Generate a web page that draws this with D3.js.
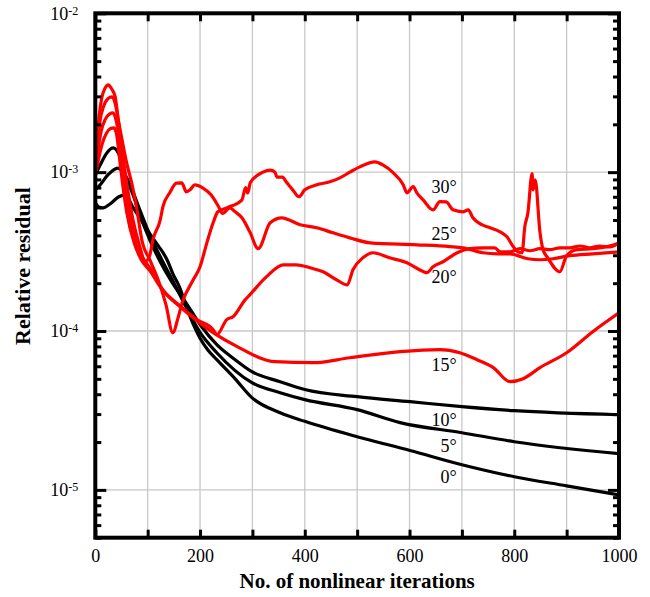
<!DOCTYPE html>
<html>
<head>
<meta charset="utf-8">
<script src="https://cdn.jsdelivr.net/npm/d3@7"></script>
<style>
  body { margin: 0; background: #fff; }
  text { font-family: "Liberation Serif", "Times New Roman", serif; }
</style>
</head>
<body>
<script>
(function () {

    //tick values and labels
    var iterTicks = [0, 100, 200, 300, 400, 500, 600, 700, 800, 900, 1000];
    var iterLabels = [0, 200, 400, 600, 800, 1000];
    var decades = [1e-5, 1e-4, 1e-3, 1e-2];
    var decadeExps = ["-5", "-4", "-3", "-2"];

    //residual histories: [iteration, relative residual]
    var res0 = [[0,6.4e-4],[8,6.0e-4],[15,5.96e-4],[28,6.3e-4],[45,7.0e-4],[57,7.2e-4],[72,6.0e-4],[85,5.16e-4],
        [104,4.1e-4],[120,3.45e-4],[137,2.81e-4],[148,2.3e-4],[162,1.85e-4],[173,1.45e-4],[190,1.05e-4],[200,9.0e-5],
        [215,7.6e-5],[232,6.6e-5],[267,5.0e-5],[299,3.81e-5],[353,3.06e-5],[400,2.7e-5],[500,2.16e-5],[601,1.77e-5],
        [700,1.44e-5],[800,1.21e-5],[900,1.06e-5],[1000,9.3e-6]];
    var res5 = [[0,7.74e-4],[9,8.3e-4],[24,9.6e-4],[43,1.06e-3],[62,8.95e-4],[85,5.79e-4],[104,4.03e-4],[127,2.81e-4],
        [152,1.95e-4],[173,1.42e-4],[200,9.8e-5],[232,7.3e-5],[299,4.73e-5],[353,4.09e-5],[400,3.7e-5],[500,3.2e-5],
        [582,2.65e-5],[700,2.29e-5],[800,2.01e-5],[1000,1.69e-5]];
    var res10 = [[0,9.6e-4],[10,1.12e-3],[22,1.32e-3],[34,1.42e-3],[45,1.3e-3],[57,9.6e-4],[72,7.2e-4],[85,5.4e-4],
        [104,3.75e-4],[124,2.73e-4],[146,2.04e-4],[173,1.51e-4],[200,1.1e-4],[232,8.2e-5],[267,6.6e-5],[299,5.55e-5],
        [353,4.8e-5],[400,4.28e-5],[500,3.86e-5],[601,3.59e-5],[700,3.34e-5],[800,3.15e-5],[1000,2.97e-5]];
    var res15 = [[0,9.4e-4],[6,1.2e-3],[13,1.5e-3],[21,1.75e-3],[29,1.88e-3],[36,1.9e-3],[41,1.7e-3],[46,1.25e-3],
        [52,8.5e-4],[60,5.6e-4],[74,3.6e-4],[88,2.8e-4],[104,2.4e-4],[129,1.8e-4],[162,1.42e-4],[194,1.16e-4],
        [225,9.76e-5],[271,7.97e-5],[343,6.41e-5],[416,6.32e-5],[486,6.79e-5],[582,7.41e-5],[658,7.63e-5],[696,7.3e-5],
        [729,6.6e-5],[760,5.88e-5],[792,4.8e-5],[817,5.01e-5],[849,5.88e-5],[900,7.3e-5],[950,9.9e-5],[1000,1.3e-4]];
    var res20 = [[0,9.6e-4],[5,1.35e-3],[11,1.8e-3],[19,2.15e-3],[27,2.32e-3],[34,2.36e-3],[40,2.1e-3],[46,1.6e-3],
        [52,1.1e-3],[57,8.0e-4],[66,5.2e-4],[80,3.5e-4],[92,2.85e-4],[104,2.5e-4],[129,1.82e-4],[162,1.44e-4],
        [194,1.18e-4],[225,1.02e-4],[232,9.48e-5],[251,1.18e-4],[263,1.23e-4],[286,1.57e-4],[295,1.69e-4],[327,2.2e-4],
        [359,2.61e-4],[384,2.61e-4],[410,2.5e-4],[435,2.36e-4],[461,2.1e-4],[481,1.95e-4],[492,2.43e-4],[511,2.89e-4],
        [530,3.11e-4],[562,2.89e-4],[595,2.69e-4],[626,2.37e-4],[633,2.33e-4],[645,2.54e-4],[664,2.73e-4],[691,3.11e-4],
        [715,3.3e-4],[740,3.34e-4],[763,3.34e-4],[773,3.15e-4],[792,3.15e-4],[811,3.3e-4],[830,3.2e-4],[849,3.3e-4],
        [868,3.25e-4],[887,3.34e-4],[906,3.34e-4],[926,3.43e-4],[944,3.34e-4],[963,3.43e-4],[983,3.38e-4],[1000,3.59e-4]];
    var res25 = [[0,9.8e-4],[4,1.45e-3],[9,2.1e-3],[16,2.6e-3],[24,2.9e-3],[32,2.98e-3],[38,2.7e-3],[44,2.1e-3],
        [50,1.5e-3],[56,1.05e-3],[62,7.74e-4],[72,5.0e-4],[85,3.4e-4],[95,2.73e-4],[104,3.0e-4],[110,3.75e-4],
        [124,5.01e-4],[129,6.05e-4],[142,7.41e-4],[155,8.53e-4],[165,8.56e-4],[174,7.52e-4],[181,7.74e-4],[190,8.32e-4],
        [205,7.97e-4],[221,7.2e-4],[235,6.1e-4],[243,5.5e-4],[257,5.96e-4],[267,5.63e-4],[280,5.16e-4],[295,4.21e-4],
        [311,3.3e-4],[334,4.8e-4],[356,5.16e-4],[391,4.67e-4],[423,4.47e-4],[454,4.15e-4],[486,3.86e-4],[525,3.59e-4],
        [614,3.49e-4],[677,3.4e-4],[702,3.34e-4],[740,3.11e-4],[769,3.06e-4],[792,3.06e-4],[826,2.85e-4],[849,2.81e-4],
        [874,2.85e-4],[906,2.98e-4],[950,3.06e-4],[1000,3.15e-4]];
    var res30 = [[0,1.0e-3],[3,1.5e-3],[7,2.2e-3],[12,2.9e-3],[18,3.35e-3],[25,3.54e-3],[31,3.35e-3],[38,2.98e-3],
        [44,2.13e-3],[50,1.67e-3],[60,1.14e-3],[70,8.4e-4],[78,6.2e-4],[90,3.6e-4],[104,2.81e-4],[120,2.1e-4],
        [135,1.46e-4],[148,9.76e-5],[158,1.21e-4],[166,1.51e-4],[187,2.1e-4],[200,2.54e-4],[213,3.59e-4],[225,4.8e-4],
        [234,5.63e-4],[251,5.96e-4],[280,6.7e-4],[287,8.0e-4],[291,7.4e-4],[296,8.6e-4],[320,1.0e-3],[334,1.03e-3],
        [343,1.0e-3],[347,9.3e-4],[357,9.3e-4],[366,8.56e-4],[377,7.74e-4],[389,7.0e-4],[400,7.74e-4],[423,8.32e-4],
        [448,8.7e-4],[467,9.2e-4],[486,1.0e-3],[505,1.08e-3],[534,1.16e-3],[549,1.11e-3],[569,9.9e-4],[588,8.32e-4],
        [595,7.41e-4],[607,8.1e-4],[614,7.41e-4],[626,6.69e-4],[645,5.79e-4],[658,6.53e-4],[670,6.5e-4],[683,5.79e-4],
        [702,5.63e-4],[712,5.79e-4],[721,5.16e-4],[738,4.67e-4],[754,4.47e-4],[773,4.21e-4],[786,3.92e-4],[798,3.4e-4],
        [807,3.15e-4],[815,3.11e-4],[820,4.51e-4],[826,5.54e-4],[834,9.8e-4],[836,7.74e-4],[840,8.95e-4],[849,4.21e-4],
        [855,3.25e-4],[864,2.89e-4],[887,2.36e-4],[900,2.98e-4],[920,3.25e-4],[950,3.3e-4],[977,3.4e-4],[996,3.54e-4],
        [1000,3.59e-4]];

    //curve names and where their labels sit (iteration, residual)
    var angleNames = ["0\u00b0", "5\u00b0", "10\u00b0", "15\u00b0", "20\u00b0", "25\u00b0", "30\u00b0"];
    var labelIter = [690, 690, 690, 690, 690, 690, 690];
    var labelRes = [1.10e-5, 1.72e-5, 2.54e-5, 5.57e-5, 2.01e-4, 3.75e-4, 7.4e-4];

    var series = [
        {name: angleNames[0], color: "#000", values: res0},
        {name: angleNames[1], color: "#000", values: res5},
        {name: angleNames[2], color: "#000", values: res10},
        {name: angleNames[3], color: "#ff0000", values: res15},
        {name: angleNames[4], color: "#ff0000", values: res20},
        {name: angleNames[5], color: "#ff0000", values: res25},
        {name: angleNames[6], color: "#ff0000", values: res30}
    ];

    var width = 650, height = 597;
    var left = 95.3, right = 619, top = 13.3, bottom = 537.7;

    var svg = d3.select("body").append("svg")
        .attr("width", width)
        .attr("height", height);

    svg.append("rect").attr("width", width).attr("height", height).attr("fill", "#fff");

    var x = d3.scaleLinear().domain([0, 1000]).range([left, right]);
    var y = d3.scaleLog().domain([5e-6, 1e-2]).range([bottom, top]);

    var minor = y.ticks().filter(function (v) {
        return decades.indexOf(v) < 0;
    });

    //grid
    svg.append("g").selectAll("line.gx")
        .data(iterTicks.slice(1, -1))
        .enter().append("line")
        .attr("x1", function (d) { return x(d); })
        .attr("x2", function (d) { return x(d); })
        .attr("y1", top).attr("y2", bottom)
        .attr("stroke", "#c8c8c8").attr("stroke-width", 1.3);
    svg.append("g").selectAll("line.gy")
        .data(decades.slice(0, -1))
        .enter().append("line")
        .attr("y1", function (d) { return y(d); })
        .attr("y2", function (d) { return y(d); })
        .attr("x1", left).attr("x2", right)
        .attr("stroke", "#c8c8c8").attr("stroke-width", 1.3);

    //curves
    svg.append("clipPath").attr("id", "plotclip")
        .append("rect").attr("x", left).attr("y", top)
        .attr("width", right - left).attr("height", bottom - top);

    var line = d3.line()
        .x(function (d) { return x(d[0]); })
        .y(function (d) { return y(d[1]); })
        .curve(d3.curveMonotoneX);

    svg.append("g").attr("clip-path", "url(#plotclip)")
        .selectAll("path")
        .data(series)
        .enter().append("path")
        .attr("d", function (d) { return line(d.values); })
        .attr("fill", "none")
        .attr("stroke", function (d) { return d.color; })
        .attr("stroke-width", 3.2)
        .attr("stroke-linejoin", "round");

    //curve labels
    svg.append("g").selectAll("text")
        .data(angleNames)
        .enter().append("text")
        .attr("x", function (d, i) { return x(labelIter[i]); })
        .attr("y", function (d, i) { return y(labelRes[i]); })
        .attr("text-anchor", "end")
        .attr("font-size", "18px")
        .text(function (d) { return d; });

    //axes, ticks pointing inward
    function styleAxis(g) {
        g.select(".domain").remove();
        g.selectAll(".tick line").attr("stroke", "#000").attr("stroke-width", 3);
        g.selectAll(".tick text").attr("font-size", "18px").attr("fill", "#000")
            .attr("font-family", "'Liberation Serif', 'Times New Roman', serif");
    }

    svg.append("g").attr("transform", "translate(0," + bottom + ")")
        .call(d3.axisBottom(x).tickValues(iterTicks).tickSize(-8).tickPadding(12)
            .tickFormat(function (d) { return iterLabels.indexOf(d) >= 0 ? d : ""; }))
        .call(styleAxis);

    svg.append("g").attr("transform", "translate(0," + top + ")")
        .call(d3.axisTop(x).tickValues(iterTicks).tickSize(-8).tickFormat(""))
        .call(styleAxis);

    var yLeft = svg.append("g").attr("transform", "translate(" + left + ",0)")
        .call(d3.axisLeft(y).tickValues(decades).tickSize(-11).tickPadding(17).tickFormat(""))
        .call(styleAxis);
    yLeft.selectAll(".tick text").each(function (d, i) {
        var t = d3.select(this);
        t.append("tspan").text("10");
        t.append("tspan").attr("dy", "-5").attr("font-size", "12px").text(decadeExps[i]);
    });

    svg.append("g").attr("transform", "translate(" + left + ",0)")
        .call(d3.axisLeft(y).tickValues(minor).tickSize(-6).tickFormat(""))
        .call(styleAxis);
    svg.append("g").attr("transform", "translate(" + right + ",0)")
        .call(d3.axisRight(y).tickValues(decades).tickSize(-11).tickFormat(""))
        .call(styleAxis);
    svg.append("g").attr("transform", "translate(" + right + ",0)")
        .call(d3.axisRight(y).tickValues(minor).tickSize(-6).tickFormat(""))
        .call(styleAxis);

    //frame
    svg.append("rect")
        .attr("x", left).attr("y", top)
        .attr("width", right - left).attr("height", bottom - top)
        .attr("fill", "none").attr("stroke", "#000").attr("stroke-width", 4);

    //axis titles
    svg.append("text")
        .attr("x", (left + right) / 2).attr("y", 588)
        .attr("text-anchor", "middle")
        .attr("font-size", "21px").attr("font-weight", "bold")
        .text("No. of nonlinear iterations");

    svg.append("text")
        .attr("transform", "translate(30," + 266 + ") rotate(-90)")
        .attr("text-anchor", "middle")
        .attr("font-size", "22px").attr("font-weight", "bold")
        .text("Relative residual");

})();
</script>
</body>
</html>
